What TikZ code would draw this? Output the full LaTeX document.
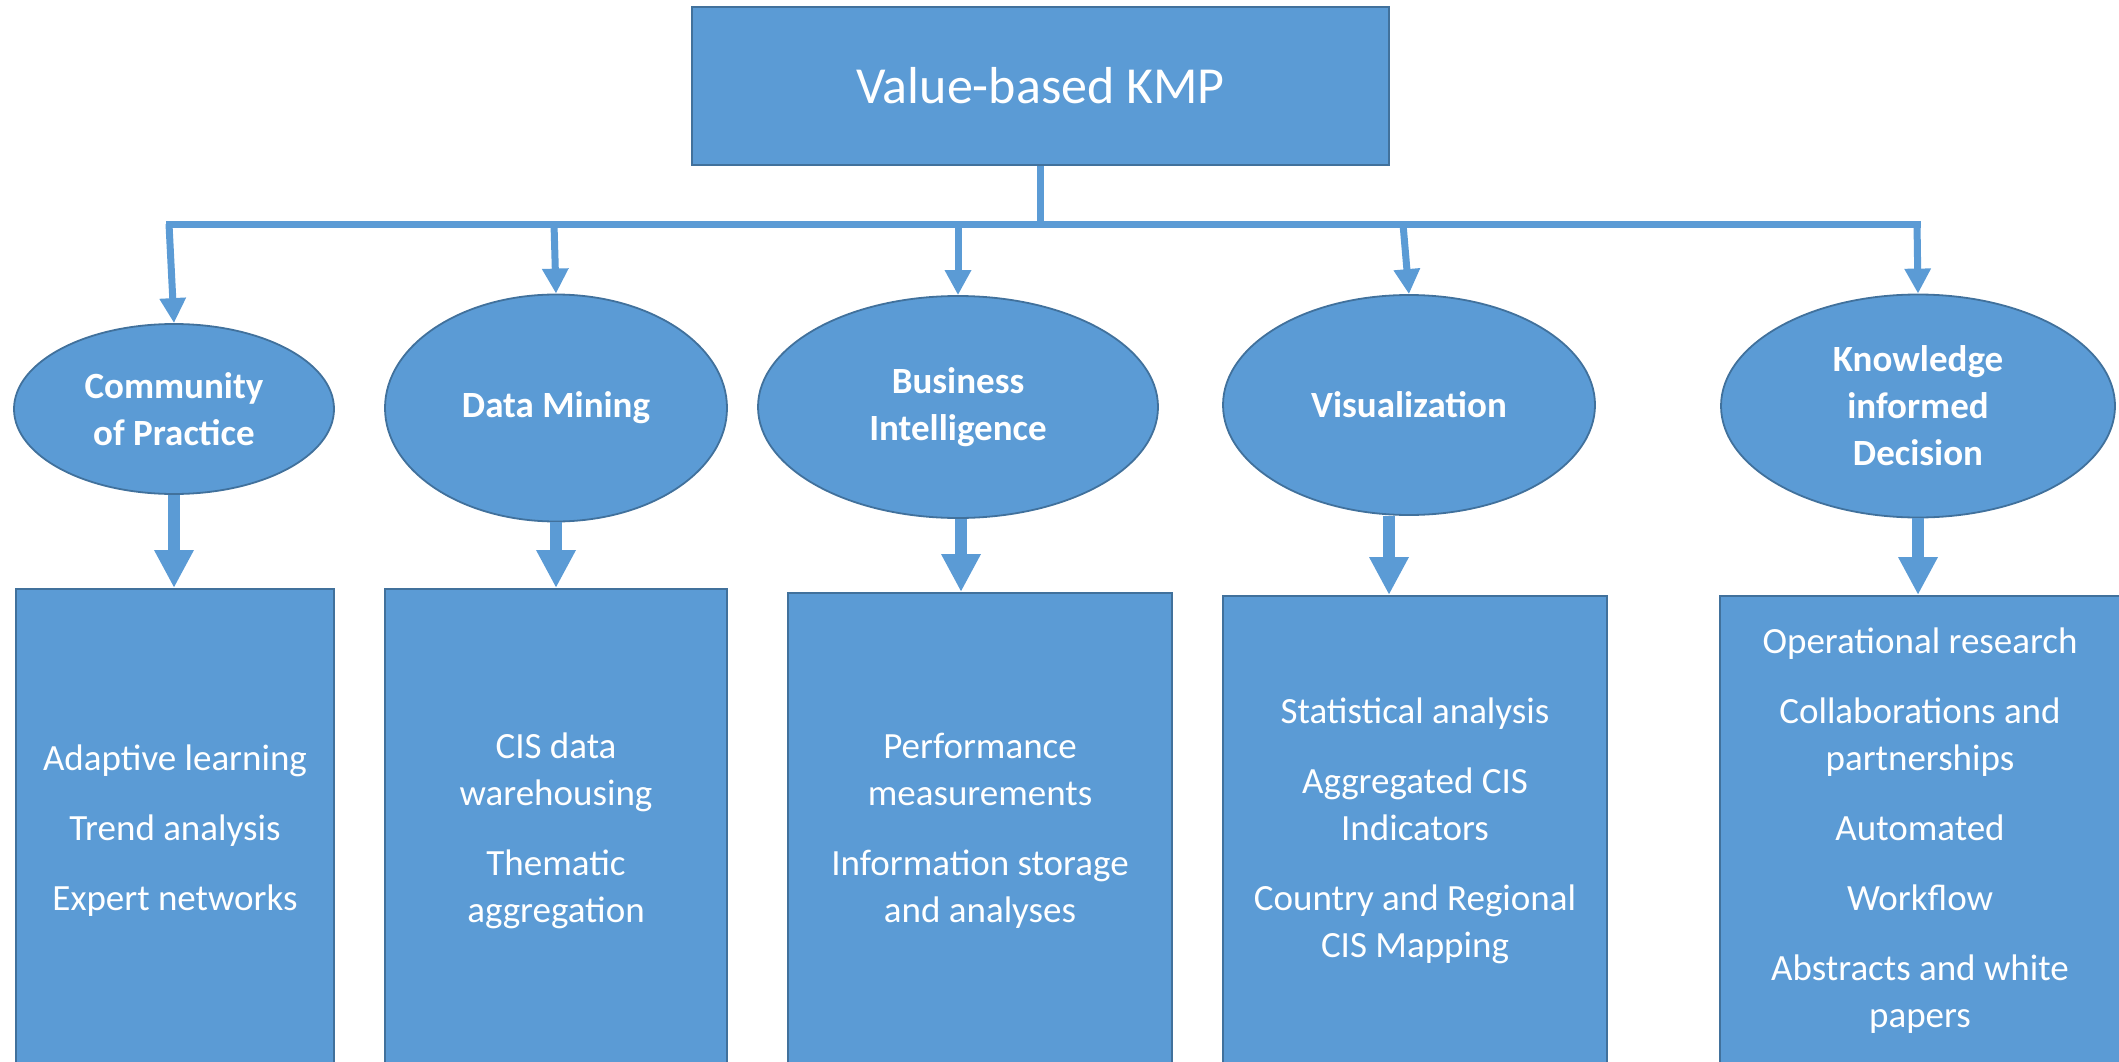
\documentclass[tikz,border=0pt]{standalone}
\usepackage{fontspec}
\setmainfont{Carlito}
\usetikzlibrary{shapes.geometric,arrows.meta}
\definecolor{kfill}{HTML}{5B9BD5}
\definecolor{kline}{HTML}{41719C}
\begin{document}
\begin{tikzpicture}[x=1pt,y=-1pt,
  boxstyle/.style={rectangle, draw=kline, line width=1.8pt, fill=kfill, text=white, inner sep=0pt},
  ell/.style={ellipse, draw=kline, line width=1.8pt, fill=kfill, text=white, inner sep=0pt, align=center, font=\fontsize{37}{47}\selectfont\bfseries},
  itembox/.style={boxstyle, anchor=north, align=center, font=\fontsize{37}{47}\selectfont},
  feed/.style={draw=kfill, line width=7pt},
  thinarrow/.style={draw=kfill, fill=kfill, line width=7pt, -{Triangle[width=25pt,length=25pt]}},
  thickarrow/.style={draw=kfill, fill=kfill, line width=12pt, -{Triangle[width=37pt,length=38pt]}}]
\useasboundingbox (0,0) rectangle (2119,1062);
\clip (0,0) rectangle (2119,1062);

% top box
\node[boxstyle, minimum width=697pt, minimum height=158pt, font=\fontsize{52}{62}\selectfont] (top) at (1040.5,86) {Value-based KMP};

% ellipses
\node[ell, minimum width=320pt, minimum height=170pt] (e1) at (174,409) {Community\\of Practice};
\node[ell, minimum width=342pt, minimum height=227pt] (e2) at (556,408) {Data Mining};
\node[ell, minimum width=400pt, minimum height=222pt] (e3) at (958,407) {Business\\Intelligence};
\node[ell, minimum width=372pt, minimum height=220pt] (e4) at (1409,405) {Visualization};
\node[ell, minimum width=394pt, minimum height=223pt] (e5) at (1918,406) {Knowledge\\informed\\Decision};

% bottom boxes
\node[itembox, minimum width=318pt, minimum height=484pt] (b1) at (175,588)
  {Adaptive learning\\[23pt]Trend analysis\\[23pt]Expert networks};
\node[itembox, minimum width=342pt, minimum height=484pt] (b2) at (556,588)
  {CIS data\\warehousing\\[23pt]Thematic\\aggregation};
\node[itembox, minimum width=384pt, minimum height=476pt] (b3) at (980,592)
  {Performance\\measurements\\[23pt]Information storage\\and analyses};
\node[itembox, minimum width=384pt, minimum height=470pt] (b4) at (1415,595)
  {Statistical analysis\\[23pt]Aggregated CIS\\Indicators\\[23pt]Country and Regional\\CIS Mapping};
\node[itembox, minimum width=400pt, minimum height=470pt] (b5) at (1920,595)
  {Operational research\\[23pt]Collaborations and\\partnerships\\[23pt]Automated\\[23pt]Workflow\\[23pt]Abstracts and white\\papers};

% feeder bar
\coordinate (j1) at (169,224);
\coordinate (j2) at (554,224);
\coordinate (j3) at (958,224);
\coordinate (j4) at (1403,224);
\coordinate (j5) at (1917,224);
\draw[feed] (top.south) -- (top.south |- j1);
\draw[feed, line cap=rect] (j1) -- (j5);

\draw[thinarrow] (j1) -- (e1.north);
\draw[thinarrow] (j2) -- (e2.north);
\draw[thinarrow] (j3) -- (e3.north);
\draw[thinarrow] (j4) -- (e4.north);
\draw[thinarrow] (j5) -- (e5.north);

% ellipse to box
\draw[thickarrow] (e1.south) -- (e1.south |- b1.north);
\draw[thickarrow] (e2.south) -- (e2.south |- b2.north);
\draw[thickarrow] ([xshift=3pt]e3.south) -- ([xshift=3pt]e3.south |- b3.north);
\draw[thickarrow] ([xshift=-20pt]e4.south) -- ([xshift=-20pt]e4.south |- b4.north);
\draw[thickarrow] (e5.south) -- (e5.south |- b5.north);
\end{tikzpicture}
\end{document}
